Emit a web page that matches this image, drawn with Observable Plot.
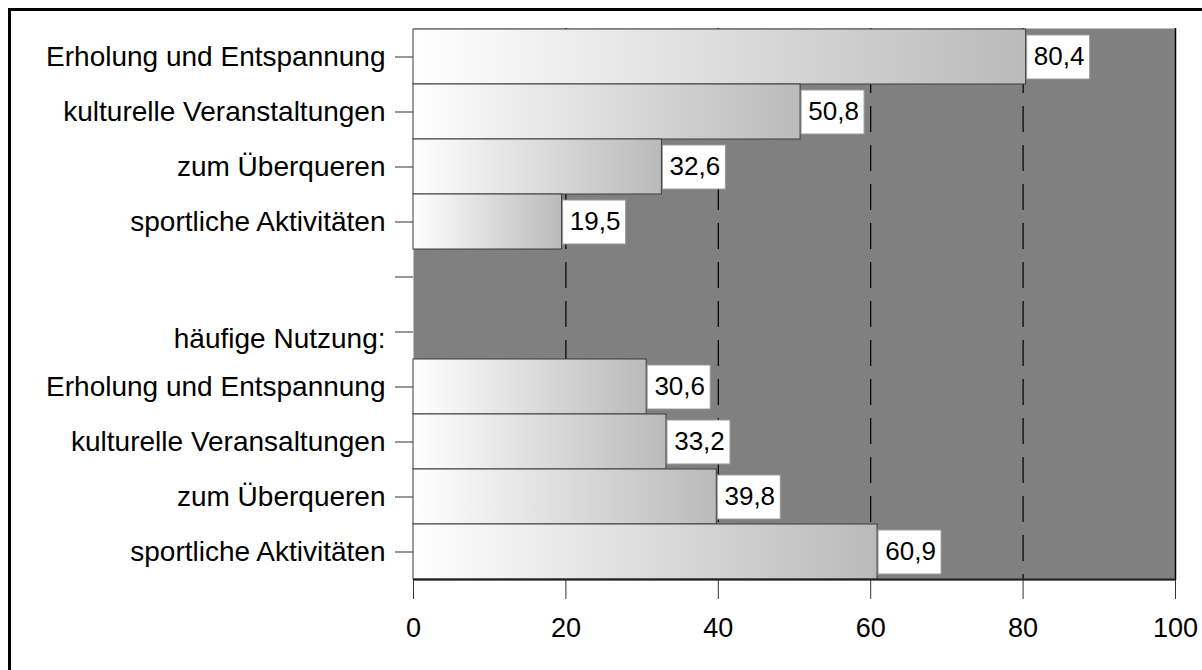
<!DOCTYPE html>
<html>
<head>
<meta charset="utf-8">
<script src="https://cdn.jsdelivr.net/npm/d3@7"></script>
<script src="https://cdn.jsdelivr.net/npm/@observablehq/plot@0.6"></script>
<style>
  html, body { margin: 0; padding: 0; background: #fff; overflow: hidden; }
  #wrap { position: relative; width: 1202px; height: 670px; }
  #border { position: absolute; left: 8px; top: 8px; width: 1400px; height: 900px;
            border-top: 3px solid #000; border-left: 3px solid #000; pointer-events: none; }
</style>
</head>
<body>
<div id="wrap"><div id="chart"></div><div id="border"></div></div>
<script>
const labels = [
  "Erholung und Entspannung",
  "kulturelle Veranstaltungen",
  "zum Überqueren",
  "sportliche Aktivitäten",
  "",
  "häufige Nutzung:",
  "Erholung und Entspannung",
  "kulturelle Veransaltungen",
  "zum Überqueren",
  "sportliche Aktivitäten"
];
const values = [80.4, 50.8, 32.6, 19.5, null, null, 30.6, 33.2, 39.8, 60.9];
const xTicks = [0, 20, 40, 60, 80, 100];
const gridTicks = [20, 40, 60, 80];

const keys = labels.map((_, i) => "r" + i);
const labelOf = k => labels[keys.indexOf(k)];
const rows = keys.map((k, i) => ({k, label: labels[i], value: values[i]})).filter(d => d.value != null);
const fmt = v => v.toFixed(1).replace(".", ",");

const H = 670, MT = 28, MB = 90;
const band = (H - MT - MB) / keys.length;

const chart = Plot.plot({
  width: 1202,
  height: H,
  marginLeft: 413,
  marginRight: 27,
  marginTop: MT,
  marginBottom: MB,
  style: {fontFamily: "'Liberation Sans', Arial, sans-serif", background: "transparent", color: "#000"},
  x: {domain: [0, 100], label: null},
  y: {type: "band", domain: keys, padding: 0, label: null},
  marks: [
    Plot.frame({fill: "#808080", stroke: null}),
    Plot.ruleX(gridTicks, {stroke: "#000", strokeWidth: 1.2, strokeDasharray: "26,13"}),
    Plot.ruleX([100], {stroke: "#000", strokeWidth: 1.5}),
    Plot.barX(rows, {y: "k", x: "value", fill: "url(#barGrad)", stroke: "#3c3c3c", strokeWidth: 1}),
    Plot.barX(rows, {y: "k", x1: "value", x2: "value", insetLeft: 1, insetRight: -64, insetTop: 6, insetBottom: 5,
                     fill: "#fff", stroke: "#9a9a9a", strokeWidth: 1}),
    Plot.text(rows, {y: "k", x: "value", text: d => fmt(d.value), dx: 33, fontSize: 26, fill: "#000"}),
    Plot.axisY({label: null, tickSize: 18, tickPadding: 10, fontSize: 28, stroke: "#333",
                tickFormat: k => (k === "r5" ? "" : labelOf(k))}),
    Plot.axisY({label: null, ticks: ["r5"], tickSize: 0, tickPadding: 28, dy: 7, fontSize: 28, tickFormat: labelOf}),
    Plot.axisX({label: null, ticks: xTicks, tickSize: 19, tickPadding: 18, fontSize: 27, stroke: "#333"}),
    Plot.ruleY([keys[keys.length - 1]], {dy: band / 2, stroke: "#222", strokeWidth: 2})
  ]
});

document.getElementById("chart").appendChild(chart);
const svg = d3.select(chart.tagName.toLowerCase() === "svg" ? chart : chart.querySelector("svg"));
const defs = svg.insert("defs", ":first-child");
const g = defs.append("linearGradient").attr("id", "barGrad")
  .attr("x1", "0").attr("y1", "0").attr("x2", "1").attr("y2", "0");
g.append("stop").attr("offset", "0").attr("stop-color", "#ffffff");
g.append("stop").attr("offset", "1").attr("stop-color", "#bababa");
</script>
</body>
</html>
